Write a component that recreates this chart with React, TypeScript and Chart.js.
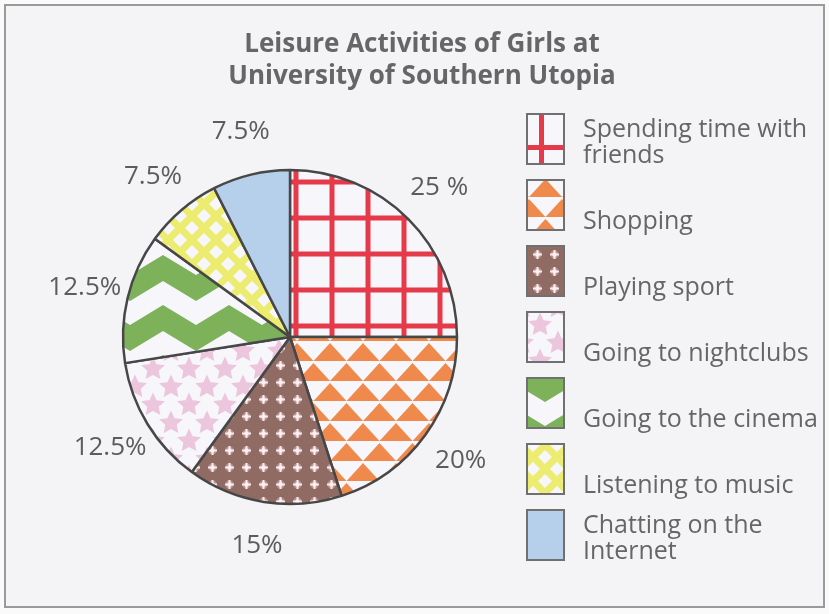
import React, { useEffect, useRef } from "react";
import { Chart, registerables } from "chart.js";

Chart.register(...registerables);

// ---------- data ----------
const TITLE_LINES = ["Leisure Activities of Girls at", "University of Southern Utopia"];
const CATEGORIES = [
  "Spending time with friends",
  "Shopping",
  "Playing sport",
  "Going to nightclubs",
  "Going to the cinema",
  "Listening to music",
  "Chatting on the Internet",
];
const LEGEND_LINES = [
  ["Spending time with", "friends"],
  ["Shopping"],
  ["Playing sport"],
  ["Going to nightclubs"],
  ["Going to the cinema"],
  ["Listening to music"],
  ["Chatting on the", "Internet"],
];
const SHARES = [25, 20, 15, 12.5, 12.5, 7.5, 7.5];
const PERCENT_LABELS = ["25 %", "20%", "15%", "12.5%", "12.5%", "7.5%", "7.5%"];
const PATTERN_KINDS = ["grid", "triangles", "dots", "stars", "zigzag", "lattice", "solid"];

// ---------- styling ----------
const FONT = '"Open Sans", "Noto Sans", sans-serif';
const TEXT_COLOR = "#666666";
const PAPER = "#f4f4f7";
const SLICE_WHITE = "#f7f6fa";
const COLORS: Record<string, string> = {
  grid: "#e43a4a",
  triangles: "#ef8a4c",
  dots: "#8f6b63",
  stars: "#ebc6dd",
  zigzag: "#7db25a",
  lattice: "#ecec70",
  solid: "#b6cfeb",
};

function makeTile(kind: string): HTMLCanvasElement {
  const c = document.createElement("canvas");
  const ctx = c.getContext("2d")!;
  const col = COLORS[kind];
  if (kind === "grid") {
    c.width = 36; c.height = 36;
    ctx.fillStyle = SLICE_WHITE; ctx.fillRect(0, 0, 36, 36);
    ctx.fillStyle = col;
    ctx.fillRect(0, 0, 36, 5);
    ctx.fillRect(0, 0, 5, 36);
  } else if (kind === "triangles") {
    c.width = 33; c.height = 40;
    ctx.fillStyle = SLICE_WHITE; ctx.fillRect(0, 0, 33, 40);
    ctx.fillStyle = col;
    ctx.beginPath();
    ctx.moveTo(0, 19); ctx.lineTo(16.5, 1); ctx.lineTo(33, 19); ctx.closePath();
    ctx.moveTo(-16.5, 39); ctx.lineTo(0, 21); ctx.lineTo(16.5, 39); ctx.closePath();
    ctx.moveTo(16.5, 39); ctx.lineTo(33, 21); ctx.lineTo(49.5, 39); ctx.closePath();
    ctx.fill();
  } else if (kind === "dots") {
    c.width = 17; c.height = 17;
    ctx.fillStyle = col; ctx.fillRect(0, 0, 17, 17);
    const cx = 8.5, cy = 8.5;
    ctx.fillStyle = "rgba(250,225,232,0.35)";
    ctx.beginPath(); ctx.arc(cx, cy, 4.2, 0, Math.PI * 2); ctx.fill();
    ctx.fillStyle = "rgba(255,238,242,0.95)";
    ctx.beginPath(); ctx.arc(cx, cy, 2.2, 0, Math.PI * 2); ctx.fill();
    ctx.fillRect(cx - 1, cy - 4.5, 2, 9);
    ctx.fillRect(cx - 4.5, cy - 1, 9, 2);
  } else if (kind === "stars") {
    c.width = 36; c.height = 36;
    ctx.fillStyle = SLICE_WHITE; ctx.fillRect(0, 0, 36, 36);
    ctx.fillStyle = col;
    const star = (sx: number, sy: number) => {
      ctx.beginPath();
      for (let i = 0; i < 10; i++) {
        const r = i % 2 === 0 ? 12.5 : 6;
        const a = -Math.PI / 2 + (i * Math.PI) / 5;
        const px = sx + Math.cos(a) * r, py = sy + Math.sin(a) * r;
        if (i === 0) ctx.moveTo(px, py); else ctx.lineTo(px, py);
      }
      ctx.closePath(); ctx.fill();
    };
    for (const dx of [-36, 0, 36]) for (const dy of [-36, 0, 36]) {
      star(9 + dx, 9 + dy);
      star(27 + dx, 27 + dy);
    }
  } else if (kind === "zigzag") {
    c.width = 66; c.height = 50;
    ctx.fillStyle = SLICE_WHITE; ctx.fillRect(0, 0, 66, 50);
    ctx.fillStyle = col;
    ctx.beginPath();
    ctx.moveTo(0, 20); ctx.lineTo(33, 0); ctx.lineTo(66, 20);
    ctx.lineTo(66, 46); ctx.lineTo(33, 26); ctx.lineTo(0, 46);
    ctx.closePath(); ctx.fill();
  } else if (kind === "lattice") {
    c.width = 24; c.height = 24;
    ctx.fillStyle = SLICE_WHITE; ctx.fillRect(0, 0, 24, 24);
    ctx.strokeStyle = col; ctx.lineWidth = 7;
    for (const k of [-24, 0, 24]) {
      ctx.beginPath(); ctx.moveTo(k - 6, -6); ctx.lineTo(k + 30, 30); ctx.stroke();
      ctx.beginPath(); ctx.moveTo(k + 30, -6); ctx.lineTo(k - 6, 30); ctx.stroke();
    }
  } else {
    c.width = 8; c.height = 8;
    ctx.fillStyle = col; ctx.fillRect(0, 0, 8, 8);
  }
  return c;
}

// pattern anchor offsets in the pie and inside legend boxes
const PIE_ANCHOR: Record<string, [number, number]> = {
  grid: [293.5, 179.5], triangles: [0, 2], dots: [0, 0], stars: [0, 0],
  zigzag: [130, 255], lattice: [0, 0], solid: [0, 0],
};
const LEGEND_ANCHOR: Record<string, [number, number]> = {
  grid: [12, 31], triangles: [2, -2], dots: [2, 0], stars: [4, 4],
  zigzag: [18, -22], lattice: [18, 25], solid: [0, 0],
};

function makePattern(ctx: CanvasRenderingContext2D, tile: HTMLCanvasElement, dx: number, dy: number) {
  const p = ctx.createPattern(tile, "repeat")!;
  p.setTransform(new DOMMatrix().translate(dx, dy));
  return p;
}

export default function App() {
  const ref = useRef<HTMLCanvasElement | null>(null);

  useEffect(() => {
    document.body.style.margin = "0";
    const canvas = ref.current!;
    const ctx2 = canvas.getContext("2d")!;
    const tiles = PATTERN_KINDS.map((k) => makeTile(k));
    const piePatterns = PATTERN_KINDS.map((k, i) =>
      makePattern(ctx2, tiles[i], PIE_ANCHOR[k][0], PIE_ANCHOR[k][1])
    );

    const framePlugin = {
      id: "frame",
      beforeDraw(chart: any) {
        const { ctx, width, height } = chart;
        ctx.save();
        ctx.fillStyle = "#fafafb";
        ctx.fillRect(0, 0, width, height);
        ctx.fillStyle = PAPER;
        ctx.fillRect(5, 5, width - 10, height - 12);
        ctx.strokeStyle = "#9a9a9a";
        ctx.lineWidth = 2;
        ctx.strokeRect(5, 5, width - 10, height - 12);
        // title
        ctx.fillStyle = TEXT_COLOR;
        ctx.font = `bold 26px ${FONT}`;
        ctx.textAlign = "center";
        ctx.textBaseline = "middle";
        TITLE_LINES.forEach((t, i) => ctx.fillText(t, 422, 45 + i * 32));
        ctx.restore();
      },
      afterDatasetsDraw(chart: any) {
        const { ctx } = chart;
        const meta = chart.getDatasetMeta(0);
        ctx.save();
        ctx.fillStyle = "#5c5c5c";
        ctx.font = `26px ${FONT}`;
        ctx.textAlign = "center";
        ctx.textBaseline = "middle";
        meta.data.forEach((arc: any, i: number) => {
          const p = arc.getProps(["x", "y", "startAngle", "endAngle", "outerRadius"], true);
          const mid = (p.startAngle + p.endAngle) / 2;
          const d = p.outerRadius + 44;
          ctx.fillText(PERCENT_LABELS[i], p.x + Math.cos(mid) * d, p.y + Math.sin(mid) * d);
        });
        // legend
        const boxX = 527, boxW = 37, boxH = 50, top0 = 114, step = 66;
        CATEGORIES.forEach((_, i) => {
          const k = PATTERN_KINDS[i];
          const by = top0 + i * step;
          ctx.fillStyle = makePattern(ctx, tiles[i], boxX + LEGEND_ANCHOR[k][0], by + LEGEND_ANCHOR[k][1]);
          ctx.fillRect(boxX, by, boxW, boxH);
          ctx.strokeStyle = "#707070";
          ctx.lineWidth = 2;
          ctx.strokeRect(boxX, by, boxW, boxH);
          ctx.fillStyle = TEXT_COLOR;
          ctx.font = `25px ${FONT}`;
          ctx.textAlign = "left";
          const lines = LEGEND_LINES[i];
          if (lines.length === 1) {
            ctx.fillText(lines[0], 583, by + 42);
          } else {
            ctx.fillText(lines[0], 583, by + 16);
            ctx.fillText(lines[1], 583, by + 42);
          }
        });
        ctx.restore();
      },
    };

    const chart = new Chart(canvas, {
      type: "pie",
      data: {
        labels: CATEGORIES,
        datasets: [
          {
            data: SHARES,
            backgroundColor: piePatterns as any,
            borderColor: "#474747",
            borderWidth: 2.5,
          },
        ],
      },
      options: {
        responsive: false,
        animation: false,
        events: [],
        radius: 167,
        layout: { padding: { left: 110, right: 359, top: 150, bottom: 90 } },
        plugins: {
          legend: { display: false },
          title: { display: false },
          tooltip: { enabled: false },
        },
      } as any,
      plugins: [framePlugin],
    });
    return () => chart.destroy();
  }, []);

  return (
    <div style={{ width: 829, height: 614 }}>
      <canvas ref={ref} width={829} height={614} style={{ display: "block" }} />
    </div>
  );
}
